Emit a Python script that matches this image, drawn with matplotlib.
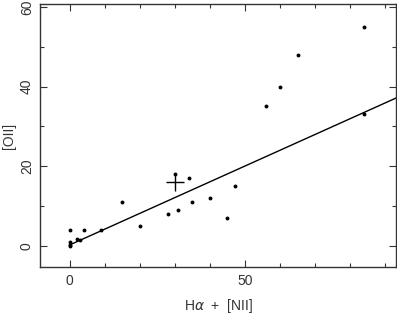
import matplotlib
matplotlib.use("Agg")
import matplotlib.pyplot as plt
import numpy as np

# points
ha_nii = [0, 0, 0, 0, 2, 3, 4, 9, 15, 20, 28, 30, 31, 34, 35, 40, 45, 47, 56, 60, 65, 84, 84]
oii = [4, 1, 0.3, 0, 1.6, 1.5, 4, 4, 11, 5, 8, 18, 9, 17, 11, 12, 7, 15, 35, 40, 48, 55, 33]

# mean point shown as a cross
mean_x = [30]
mean_y = [16]

# fitted line
fit_slope = 0.397
fit_icpt = 0.2
fit_x = [0, 95]

plt.rcParams['font.family'] = ['Liberation Sans', 'DejaVu Sans']
ink = '#333333'

fig = plt.figure(figsize=(3.97, 3.14), dpi=100)
ax = fig.add_axes([0.1008, 0.1487, 0.8967, 0.838])

ax.plot(ha_nii, oii, 'o', color='black', markersize=2.8, markeredgewidth=0)
ax.plot(mean_x, mean_y, '+', color='black', markersize=13, markeredgewidth=1.0)
fx = np.array(fit_x)
ax.plot(fx, fit_slope * fx + fit_icpt, color='black', linewidth=1.0)

ax.set_xlim(-8.4, 93)
ax.set_ylim(-5.4, 60.7)
ax.set_xticks([0, 50])
ax.set_xticks(np.arange(0, 100, 10), minor=True)
ax.set_yticks([0, 20, 40, 60])
ax.set_yticks([10, 30, 50], minor=True)

ax.tick_params(which='both', direction='in', top=True, right=True, colors=ink,
               labelcolor=ink, labelsize=10, width=0.8, pad=4.5)
ax.tick_params(which='major', length=5)
ax.tick_params(which='minor', length=3)
for lab in ax.get_yticklabels():
    lab.set_rotation(90)
    lab.set_va('center')
for s in ax.spines.values():
    s.set_color(ink)
    s.set_linewidth(1.0)

ax.set_xlabel(r'H$\alpha$  +  [NII]', color=ink, fontsize=10, labelpad=7)
ax.set_ylabel('[OII]', color=ink, fontsize=10, labelpad=3)

fig.savefig('out.png', dpi=100)
